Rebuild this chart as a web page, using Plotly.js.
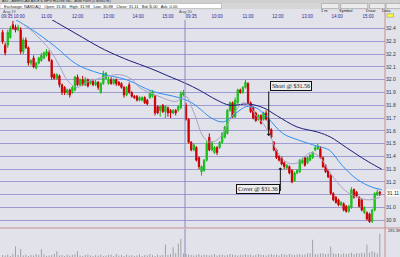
<!DOCTYPE html>
<html><head><meta charset="utf-8">
<script src="https://cdn.plot.ly/plotly-3.0.1.min.js"></script>
<style>html,body{margin:0;padding:0;background:#e2e2ea;overflow:hidden}#chart{width:400px;height:257px;}</style>
</head><body><div id="chart"></div>
<script>
// ---- data (5-minute bars, Aug 19 - Aug 20) ----
const openP = [32.37,32.27,32.27,32.33,32.43,32.41,32.39,32.39,32.22,32.31,
32.25,32.13,32.17,32.09,32.13,32.15,32.17,32.19,32.21,32.15,
32.04,32.01,32.03,31.96,31.94,31.90,31.92,31.90,31.92,32.02,
31.96,32.00,31.96,32.00,31.97,31.99,31.96,31.98,31.90,31.97,
32.01,31.97,32.00,31.97,32.00,31.98,31.97,31.94,31.88,31.96,
31.90,31.87,31.87,31.84,31.84,31.86,31.84,31.86,31.87,31.87,
31.79,31.76,31.80,31.75,31.78,31.76,31.74,31.76,31.76,31.78,
31.88,
31.80,31.69,31.51,31.45,31.47,31.39,31.28,31.29,31.37,
31.55,31.45,31.43,31.47,31.47,31.51,31.55,31.58,31.76,31.82,
31.71,31.82,31.92,31.90,31.94,31.97,31.82,31.78,31.74,31.69,
31.72,31.69,31.74,31.69,31.61,31.51,31.45,31.40,31.39,31.35,
31.31,31.32,31.29,31.21,31.27,31.28,31.35,31.39,31.35,31.37,
31.39,31.45,31.46,31.46,31.39,31.33,31.29,31.25,31.11,31.08,
31.06,31.02,31.03,31.01,30.97,31.00,31.14,31.12,31.08,31.06,
30.96,30.96,30.95,30.89,30.98,31.10,31.12];
const highP = [32.39,32.29,32.39,32.42,32.46,32.43,32.43,32.41,32.33,32.33,
32.26,32.16,32.19,32.14,32.18,32.21,32.22,32.24,32.23,32.16,
32.05,32.05,32.04,31.97,31.95,31.93,31.93,31.95,32.03,32.04,
32.01,32.03,32.02,32.01,32.00,32.00,32.00,31.99,31.98,32.07,
32.06,32.02,32.02,32.01,32.01,31.99,31.98,31.95,31.95,31.98,
31.91,31.88,31.88,31.87,31.87,31.87,31.85,31.91,31.92,31.88,
31.80,31.80,31.81,31.80,31.79,31.77,31.77,31.77,31.80,31.91,
31.92,
31.82,31.70,31.52,31.50,31.48,31.40,31.33,31.38,31.52,
31.58,31.52,31.48,31.48,31.52,31.59,31.64,31.77,31.83,31.83,
31.86,31.93,31.93,31.95,32.00,31.98,31.83,31.79,31.75,31.73,
31.73,31.75,31.76,31.70,31.62,31.52,31.46,31.41,31.40,31.36,
31.34,31.33,31.30,31.28,31.30,31.38,31.39,31.40,31.40,31.42,
31.44,31.48,31.50,31.48,31.40,31.34,31.30,31.26,31.12,31.09,
31.07,31.05,31.04,31.02,31.02,31.16,31.15,31.13,31.09,31.07,
31.01,30.97,30.96,30.99,31.12,31.14,31.13];
const lowP = [32.28,32.19,32.25,32.32,32.39,32.37,32.38,32.20,32.20,32.24,
32.11,32.11,32.09,32.08,32.12,32.14,32.16,32.18,32.14,32.00,
32.00,32.00,31.94,31.88,31.88,31.88,31.86,31.89,31.91,31.95,
31.95,31.95,31.95,31.94,31.96,31.95,31.95,31.92,31.89,31.96,
32.00,31.96,31.96,31.96,31.95,31.95,31.93,31.86,31.87,31.89,
31.86,31.85,31.83,31.83,31.83,31.81,31.80,31.85,31.86,31.72,
31.73,31.71,31.74,31.70,31.71,31.70,31.73,31.72,31.75,31.77,
31.87,
31.68,31.50,31.44,31.44,31.36,31.30,31.25,31.28,31.36,
31.44,31.44,31.42,31.41,31.46,31.50,31.54,31.57,31.75,31.70,
31.70,31.81,31.89,31.89,31.93,31.81,31.74,31.69,31.67,31.68,
31.65,31.68,31.68,31.60,31.54,31.44,31.38,31.36,31.33,31.30,
31.30,31.26,31.19,31.20,31.26,31.27,31.34,31.32,31.34,31.36,
31.38,31.44,31.45,31.38,31.31,31.27,31.23,31.10,31.05,31.03,
31.01,31.01,30.97,30.96,30.96,30.99,31.07,31.08,31.00,30.97,
30.95,30.90,30.88,30.88,30.97,31.09,31.09];
const closeP = [32.30,32.21,32.37,32.40,32.40,32.39,32.41,32.22,32.31,32.25,
32.13,32.15,32.10,32.13,32.17,32.19,32.21,32.22,32.15,32.02,
32.01,32.04,31.96,31.90,31.90,31.92,31.88,31.94,32.02,31.96,
32.00,31.96,32.00,31.95,31.99,31.96,31.98,31.94,31.97,32.05,
32.05,32.00,31.97,32.00,31.97,31.96,31.94,31.88,31.94,31.90,
31.87,31.86,31.84,31.86,31.86,31.82,31.81,31.90,31.90,31.74,
31.74,31.79,31.75,31.79,31.74,31.74,31.76,31.74,31.79,31.89,
31.90,
31.69,31.51,31.45,31.49,31.37,31.32,31.32,31.37,31.50,
31.45,31.51,31.47,31.43,31.51,31.58,31.63,31.76,31.82,31.71,
31.84,31.92,31.90,31.94,31.98,31.82,31.75,31.70,31.68,31.72,
31.66,31.74,31.69,31.61,31.55,31.45,31.39,31.37,31.34,31.32,
31.33,31.27,31.20,31.27,31.29,31.37,31.37,31.33,31.39,31.41,
31.43,31.47,31.48,31.39,31.32,31.28,31.24,31.11,31.06,31.04,
31.02,31.04,30.98,30.97,31.01,31.14,31.08,31.09,31.01,30.98,
31.00,30.91,30.89,30.98,31.11,31.12,31.11];
const volumeK = [20,15,25,10,30,110,20,80,15,25,
10,20,15,30,20,80,25,10,15,20,
30,60,15,20,10,25,15,20,30,60,
15,10,20,25,15,10,20,15,25,10,
15,20,25,10,30,15,20,10,25,15,
20,10,15,25,10,20,15,30,20,10,
25,15,20,130,20,30,100,40,140,190,
35,30,25,20,15,20,30,15,25,20,
15,20,30,15,20,25,15,20,30,25,
20,15,25,20,30,20,25,15,20,30,
25,20,15,25,30,20,25,15,30,25,
20,30,25,20,25,30,20,25,35,40,
180,30,25,35,40,30,35,110,40,30,
35,25,40,30,35,45,30,40,35,45,
40,130,45,60,50,35,240];

// moving averages (bar position, price)
const maFastX = [6.9,11.9,18.4,22.2,24.9,28.7,32.6,37.5,45.2,50.2,52.9,60.5,67,70.9,73.9,77.8,80.5,84.3,88.1,90.4,93.1,95.8,98.1,100.8,103.4,106.5,110.3,114.2,119.2,123,126.8,132.2,137.2,142.1,146];
const maFastY = [32.45,32.37,32.23,32.10,32.00,31.94,31.98,32.01,32.04,32.00,31.94,31.87,31.83,31.87,31.75,31.55,31.51,31.55,31.69,31.76,31.82,31.79,31.72,31.66,31.57,31.43,31.35,31.35,31.43,31.39,31.27,31.14,31.08,31.06,31.08];
const maMidX = [5,11.5,20.3,28.7,37.5,47.9,57.9,68.2,73.2,75.9,80.8,85.4,90.4,94.3,98.1,102.7,108.4,114.2,121.8,126.4,131.4,137.2,142.9,146.7];
const maMidY = [32.47,32.39,32.26,32.12,32.05,32.00,31.91,31.86,31.82,31.78,31.70,31.67,31.74,31.79,31.78,31.70,31.58,31.53,31.48,31.45,31.33,31.22,31.16,31.14];
const maSlowX = [19,25,31,37,42,49,57,64,71,76,83,88,95,101,106,114,122,127,133,139,144,146.7];
const maSlowY = [32.47,32.40,32.33,32.26,32.21,32.15,32.09,32.03,31.97,31.92,31.84,31.80,31.81,31.78,31.72,31.63,31.59,31.55,31.47,31.39,31.33,31.30];

const tickIdx = [1.7,6.4,17,29,41,52.5,64,73,83,95,106.5,118,129.5,141.5];
const tickText = ['09:35','10:00','11:00','12:00','13:00','14:00','15:00','09:35','10:00','11:00','12:00','13:00','14:00','15:00'];
const priceTicks = [30.9,31.0,31.1,31.2,31.3,31.4,31.5,31.6,31.7,31.8,31.9,32.0,32.1,32.2,32.3,32.4];
const day2Start = 71;
const shortBar = 103, shortPrice = 31.56;
const coverBar = 107.5, coverPrice = 31.36;
const lastPrice = 31.11;
const volScaleText = '281.3K';

const barIdx = openP.map((_, i) => i);

const traces = [
  {type:'bar', x:barIdx, y:volumeK, yaxis:'y2', width:0.35,
   marker:{color:'#9a9a9a', line:{width:0}}, hoverinfo:'skip'},
  {type:'scatter', mode:'lines', x:maSlowX, y:maSlowY, line:{color:'#1c1c7a', width:1, shape:'spline'}},
  {type:'scatter', mode:'lines', x:maMidX, y:maMidY, line:{color:'#2e8ff0', width:1, shape:'spline'}},
  {type:'scatter', mode:'lines', x:maFastX, y:maFastY, line:{color:'#a4a4c4', width:1, shape:'spline'}},
  {type:'candlestick', x:barIdx, open:openP, high:highP, low:lowP, close:closeP,
   increasing:{line:{color:'#18b818', width:1}, fillcolor:'#22dd22'},
   decreasing:{line:{color:'#c80000', width:1}, fillcolor:'#dd0000'},
   whiskerwidth:0}
];

const small = {family:'Liberation Sans, Arial, sans-serif', size:5, color:'#333'};
// hide the 31.1 tick text: it sits under the last-price box
const priceText = priceTicks.map(v => Math.abs(v - 31.1) < 1e-6 ? '' : v.toFixed(1));
const layout = {
  width:400, height:257,
  margin:{l:0, r:15, t:20, b:0},
  paper_bgcolor:'#e2e2ea', plot_bgcolor:'#e2e2ea',
  showlegend:false,
  font:small,
  xaxis:{range:[-1,148], side:'top', tickvals:tickIdx, ticktext:tickText, tickangle:0,
         tickfont:{family:'Liberation Sans, Arial, sans-serif', size:4.5, color:'#2b2b9a'},
         showgrid:false, zeroline:false, showline:false, ticks:'', rangeslider:{visible:false}, fixedrange:true},
  yaxis:{domain:[0.1224,1], range:[30.84,32.467], side:'right', tickvals:priceTicks,
         ticktext:priceText, tickfont:small,
         gridcolor:'#9c9cd2', gridwidth:1, zeroline:false, showline:false, ticks:''},
  yaxis2:{domain:[0,0.118], range:[0,290], showgrid:false, showticklabels:false, zeroline:false},
  shapes:[
    {type:'line', xref:'x', yref:'paper', x0:day2Start-0.4, x1:day2Start-0.4, y0:0.1224, y1:1.0, line:{color:'#8888c0', width:1}},
    {type:'line', xref:'x', yref:'y2', x0:day2Start-0.4, x1:day2Start-0.4, y0:0, y1:290, line:{color:'#8888c0', width:1}},
    {type:'line', xref:'paper', yref:'paper', x0:0, x1:1.04, y0:0.1224, y1:0.1224, line:{color:'#c49090', width:1}},
    {type:'line', xref:'paper', yref:'paper', x0:1, x1:1, y0:0, y1:1.046, line:{color:'#c49090', width:1}},
    // header strips
    {type:'rect', xref:'paper', yref:'paper', x0:-0.01, x1:1.05, y0:1.046, y1:1.072, fillcolor:'#d6d6d6', line:{width:0}},
    {type:'rect', xref:'paper', yref:'paper', x0:-0.01, x1:1.05, y0:1.072, y1:1.09, fillcolor:'#cfcfcf', line:{width:0}},
    {type:'rect', xref:'paper', yref:'paper', x0:0.0, x1:0.39, y0:1.048, y1:1.07, fillcolor:'#ffffff', line:{color:'#999', width:0.5}},
    {type:'rect', xref:'paper', yref:'paper', x0:0.39, x1:0.575, y0:1.048, y1:1.07, fillcolor:'#ffffff', line:{color:'#999', width:0.5}},
    {type:'rect', xref:'paper', yref:'paper', x0:0.835, x1:0.88, y0:1.048, y1:1.07, fillcolor:'#ececec', line:{color:'#888', width:0.5}},
    {type:'rect', xref:'paper', yref:'paper', x0:0.885, x1:0.955, y0:1.048, y1:1.07, fillcolor:'#ececec', line:{color:'#888', width:0.5}},
    {type:'rect', xref:'paper', yref:'paper', x0:0.96, x1:1.0, y0:1.048, y1:1.07, fillcolor:'#ececec', line:{color:'#888', width:0.5}},
    {type:'rect', xref:'paper', yref:'paper', x0:1.003, x1:1.04, y0:1.048, y1:1.07, fillcolor:'#ececec', line:{color:'#888', width:0.5}},
    {type:'rect', xref:'paper', yref:'paper', x0:1.005, x1:1.022, y0:1.012, y1:1.026, fillcolor:'#ffff30', line:{color:'#888', width:0.5}}
  ],
  annotations:[
    {xref:'paper', yref:'paper', x:0.0, y:1.079, xanchor:'left', yanchor:'middle', showarrow:false,
     text:'AXL - AMERICAN AXLE & MFG HLDGS INC - Auto Parts (5 MINUTE)', font:{size:3.5, color:'#222'}},
    {xref:'paper', yref:'paper', x:0.005, y:1.059, xanchor:'left', yanchor:'middle', showarrow:false,
     text:'Exchange: NASDAQ   Open: 31.80   High: 31.98   Low: 30.88   Close: 31.11   Bid: 0.00   Ask: 0.00', font:{size:4, color:'#222'}},
    {xref:'paper', yref:'paper', x:0.857, y:1.059, showarrow:false, text:'1 m', font:{size:4, color:'#222'}},
    {xref:'paper', yref:'paper', x:0.92, y:1.059, showarrow:false, text:'Symbol', font:{size:4, color:'#222'}},
    {xref:'paper', yref:'paper', x:0.98, y:1.059, showarrow:false, text:'Draw', font:{size:4, color:'#222'}},
    {xref:'paper', yref:'paper', x:1.022, y:1.059, showarrow:false, text:'Data', font:{size:4, color:'#222'}},
    {xref:'paper', yref:'paper', x:0.003, y:1.036, xanchor:'left', yanchor:'middle', showarrow:false, text:'Aug 19', font:{size:4, color:'#555'}},
    {xref:'x', yref:'paper', x:day2Start-0.4, y:1.036, xanchor:'center', yanchor:'middle', showarrow:false, text:'Aug 20', font:{size:4, color:'#555'}},
    // trade markers
    {x:shortBar, y:shortPrice, xref:'x', yref:'y', text:'', showarrow:true, ax:0, ay:-46, axref:'pixel', ayref:'pixel',
     arrowhead:1, arrowsize:0.7, arrowwidth:1, arrowcolor:'#111'},
    {x:shortBar, y:shortPrice, xref:'x', yref:'y', text:'Short @ $'+shortPrice.toFixed(2), showarrow:false,
     xanchor:'left', yanchor:'bottom', yshift:45, xshift:1,
     font:{family:'Liberation Serif, Times New Roman, serif', size:6, color:'#111'},
     bgcolor:'#ededed', bordercolor:'#111', borderwidth:1, borderpad:1},
    {x:coverBar, y:coverPrice, xref:'x', yref:'y', yshift:-6, text:'', showarrow:true, ax:0, ay:25, axref:'pixel', ayref:'pixel',
     arrowhead:1, arrowsize:0.7, arrowwidth:1, arrowcolor:'#111'},
    {x:coverBar, y:coverPrice, xref:'x', yref:'y', text:'Cover @ $'+coverPrice.toFixed(2), showarrow:false,
     xanchor:'right', yanchor:'top', yshift:-22,
     font:{family:'Liberation Serif, Times New Roman, serif', size:6, color:'#111'},
     bgcolor:'#ededed', bordercolor:'#111', borderwidth:1, borderpad:1},
    {xref:'paper', yref:'y', x:1, y:lastPrice, xanchor:'left', xshift:1, showarrow:false, text:lastPrice.toFixed(2),
     font:{size:5, color:'#222'}, bgcolor:'#ffffff', borderpad:0},
    {xref:'paper', yref:'y2', x:1, y:275, xanchor:'left', xshift:1, showarrow:false, text:volScaleText,
     font:{size:4, color:'#333'}}
  ]
};
Plotly.newPlot('chart', traces, layout, {staticPlot:true, displayModeBar:false});
</script>
</body></html>
